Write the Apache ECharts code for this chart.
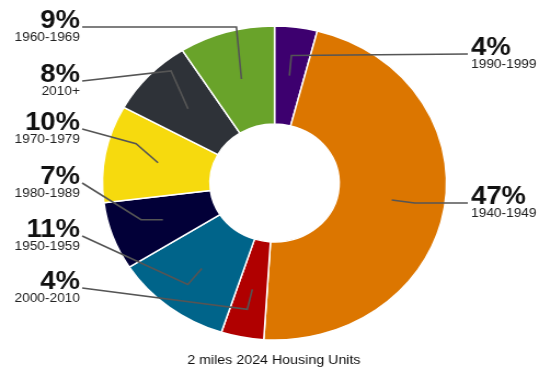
<!DOCTYPE html>
<html>
<head>
<meta charset="utf-8">
<script src="https://cdn.jsdelivr.net/npm/echarts@6/dist/echarts.min.js"></script>
<style>
  html, body { margin: 0; padding: 0; background: #ffffff; overflow: hidden; }
  #wrap { width: 540px; height: 370px; overflow: hidden; }
  /* the whole drawing is widened slightly, so the ring reads as an ellipse */
  #chart { width: 493px; height: 370px; transform: scaleX(1.0955); transform-origin: 0 0; }
</style>
</head>
<body>
<div id="wrap"><div id="chart"></div></div>
<script>
// Housing units by year built, clockwise from 12 o'clock
const categories = ['1990-1999', '1940-1949', '2000-2010', '1950-1959', '1980-1989', '1970-1979', '2010+', '1960-1969'];
const shares = [4, 47, 4, 11, 7, 10, 8, 9];
const sliceColors = ['#3d006f', '#dc7600', '#b00000', '#00648a', '#020038', '#f6da0e', '#2e3238', '#69a32a'];
const chartTitle = '2 miles 2024 Housing Units';

// label placement: [x, top]; left-hand labels are right-aligned at x
const labelAnchors = [[430, 38], [430, 187], [73, 272], [73, 220], [73, 167], [73, 113], [73, 65], [73, 11]];
// elbow of each leader line, offset from where it starts inside the ring
const leaderBends = [[1.8, -20], [21, 3], [-4.6, 20], [-12.8, 16], [-20, 0], [-20, -19], [-15.5, -38], [-4.6, -52]];

const CENTER = [250.6, 183];
const OUTER = 157, INNER = 59, LEADER_R = 108.3;

const pieData = categories.map((c, i) => ({
  name: c,
  value: shares[i],
  itemStyle: { color: sliceColors[i] }
}));

const labelData = categories.map((c, i) => ({ name: c, value: shares[i] }));

function fallbackStart(i) {
  // midpoint of the slice on the leader radius
  const total = shares.reduce((a, b) => a + b, 0);
  let before = 0;
  for (let k = 0; k < i; k++) before += shares[k];
  const ang = (90 - (before + shares[i] / 2) / total * 360) * Math.PI / 180;
  return [CENTER[0] + LEADER_R * Math.cos(ang), CENTER[1] - LEADER_R * Math.sin(ang)];
}

const chart = echarts.init(document.getElementById('chart'), null, { renderer: 'canvas' });

chart.setOption({
  backgroundColor: '#ffffff',
  animation: false,
  title: {
    text: chartTitle,
    left: 245,
    top: 349,
    textAlign: 'center',
    textStyle: { fontSize: 13, fontWeight: 'normal', color: '#111', fontFamily: 'Liberation Sans, Arial, sans-serif' }
  },
  series: [
    {
      type: 'pie',
      z: 2,
      center: CENTER,
      radius: [INNER, OUTER],
      startAngle: 90,
      clockwise: true,
      silent: true,
      avoidLabelOverlap: false,
      label: { show: false },
      labelLine: { show: false },
      itemStyle: { borderColor: '#ffffff', borderWidth: 1.5 },
      data: pieData
    },
    {
      type: 'pie',
      z: 5,
      center: CENTER,
      radius: [0, LEADER_R],
      startAngle: 90,
      clockwise: true,
      silent: true,
      avoidLabelOverlap: false,
      itemStyle: { color: 'rgba(0,0,0,0)', borderWidth: 0 },
      label: {
        show: true,
        position: 'outside',
        formatter: (p) => '{p|' + p.value + '%}\n{y|' + p.name + '}',
        rich: {
          p: { fontSize: 25, lineHeight: 20, fontWeight: 'bold', color: '#111', fontFamily: 'Liberation Sans, Arial, sans-serif' },
          y: { fontSize: 12.5, lineHeight: 14, color: '#222', fontFamily: 'Liberation Sans, Arial, sans-serif' }
        }
      },
      labelLine: {
        show: true,
        length: 6,
        length2: 6,
        lineStyle: { color: '#555', width: 1.6 }
      },
      labelLayout: function (params) {
        const i = params.dataIndex;
        const a = labelAnchors[i];
        const isLeft = a[0] < CENTER[0];
        const pts = params.labelLinePoints;
        const start = pts && pts[0] ? pts[0] : fallbackStart(i);
        const b = leaderBends[i];
        const bend = [start[0] + b[0], start[1] + b[1]];
        const end = [isLeft ? a[0] + 2 : a[0] - 3, a[1] + 16];
        return {
          x: a[0],
          y: a[1],
          align: isLeft ? 'right' : 'left',
          verticalAlign: 'top',
          labelLinePoints: [start, bend, end]
        };
      },
      data: labelData
    }
  ]
});
</script>
</body>
</html>
